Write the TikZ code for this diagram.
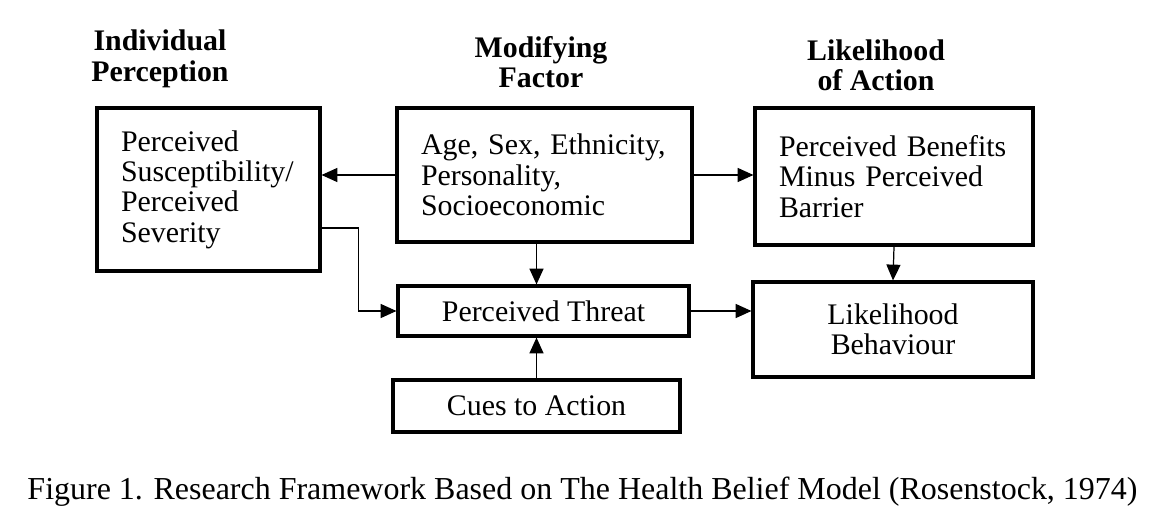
\documentclass[tikz,border=0pt]{standalone}
\usepackage{fontspec}
\setmainfont{Liberation Serif}
\usetikzlibrary{positioning, arrows.meta, calc}

\begin{document}
\begin{tikzpicture}[x=0.02cm, y=-0.02cm,
    box/.style={draw, line width=1.8pt, inner xsep=0.48cm, inner ysep=0pt,
                font=\fontsize{17}{17.3}\selectfont},
    lbox/.style={box, align=left},
    cbox/.style={box, align=center},
    heading/.style={align=center, font=\fontsize{17}{17.3}\selectfont\bfseries},
    link/.style={line width=0.7pt, -{Triangle[length=9pt, width=8pt]}}]
    \useasboundingbox (0,0) rectangle (1152,527);

    \node[lbox, text width=3.5cm, minimum height=3.26cm] at (208.5,189.5) (sus)
    {Perceived\\Susceptibility/\\Perceived\\Severity};
    \node[lbox, text width=4.94cm, minimum height=2.68cm] at (544.5,175) (mod)
    {Age, Sex, Ethnicity,\\Personality,\\Socioeconomic};
    \node[lbox, text width=4.6cm, minimum height=2.74cm] at (894,176.5) (ben)
    {Perceived Benefits\\Minus Perceived\\Barrier};
    \node[cbox, minimum width=5.82cm, minimum height=1cm] at (543.5,311) (thr)
    {Perceived Threat};
    \node[cbox, minimum width=5.6cm, minimum height=1.9cm] at (893,329.5) (beh)
    {Likelihood\\Behaviour};
    \node[cbox, minimum width=5.74cm, minimum height=1.04cm] at (536.5,406) (cue)
    {Cues to Action};

    \node[heading] at (160,59) (ip) {Individual\\Perception};
    \node[heading] at (541,62) (mf) {Modifying\\Factor};
    \node[heading] at (876,65) (la) {Likelihood\\of Action};

    \draw[link] (mod.west) -- (sus.east |- mod.west);
    \draw[link] (mod.east) -- (ben.west |- mod.east);
    \draw[link] (mod.south -| cue.north) -- (thr.north -| cue.north);
    \draw[link] (cue.north) -- (thr.south -| cue.north);
    \draw[link] ([yshift=-0.77cm]sus.east) -- ++(37,0) |- (thr.west);
    \draw[link] (thr.east) -- (beh.west |- thr.east);
    \draw[link] (ben.south) -- (beh.north);

    \node[font=\fontsize{18.2}{18.5}\selectfont] at (582.5,492) (cap)
    {Figure 1. Research Framework Based on The Health Belief Model (Rosenstock, 1974)};
\end{tikzpicture}
\end{document}
